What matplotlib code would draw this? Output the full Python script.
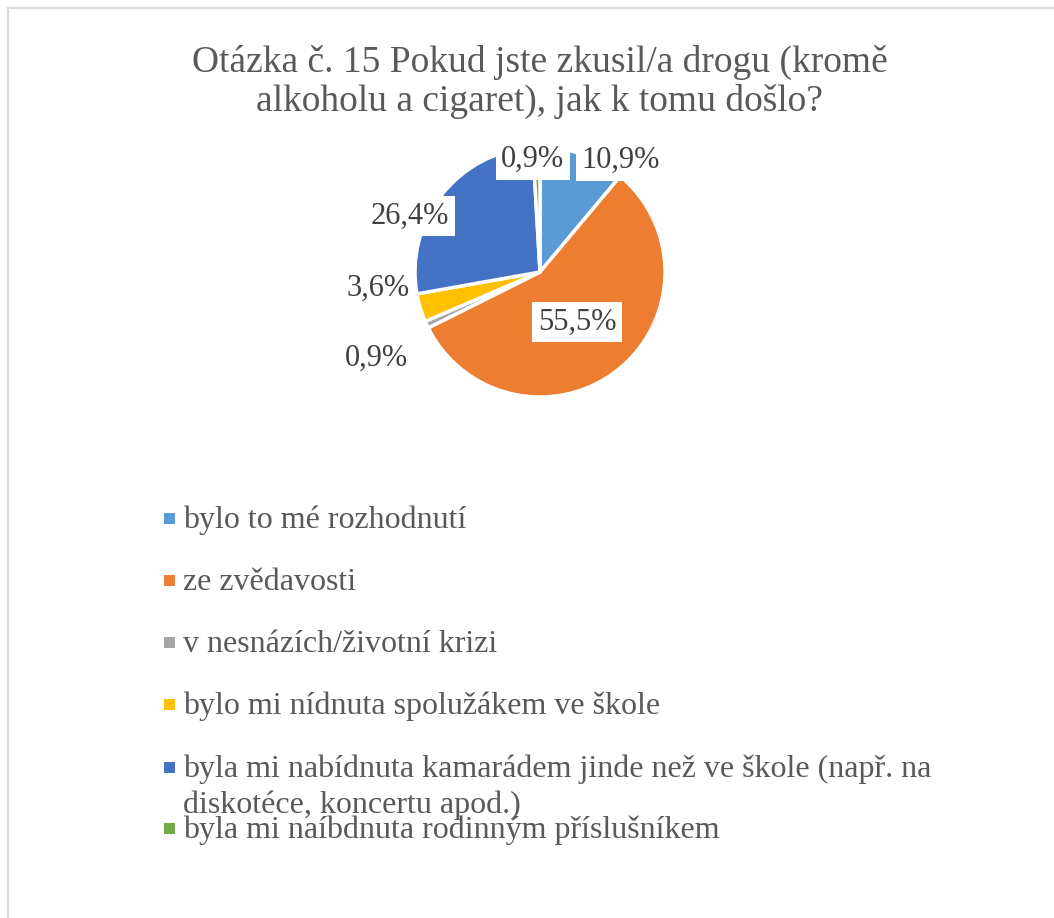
import matplotlib.pyplot as plt
from matplotlib.patches import Rectangle
import numpy as np

plt.rcParams['font.family'] = ['Liberation Serif', 'DejaVu Serif']

# data
categories = ['bylo to mé rozhodnutí',
              'ze zvědavosti',
              'v nesnázích/životní krizi',
              'bylo mi nídnuta spolužákem ve škole',
              'byla mi nabídnuta kamarádem jinde než ve škole (např. na\ndiskotéce, koncertu apod.)',
              'byla mi naíbdnuta rodinným příslušníkem']
shares = [10.9, 55.5, 0.9, 3.6, 26.4, 0.9]
pct_labels = ['10,9%', '55,5%', '0,9%', '3,6%', '26,4%', '0,9%']
colors = ['#5B9BD5', '#ED7D31', '#A5A5A5', '#FFC000', '#4472C4', '#70AD47']

# label placement (radius factor, angle shift from wedge middle)
lab_r = [1.1, 0.5, 1.48, 1.3, 1.13, 0.9]
lab_shift = [-16, -2, 3, -11, 15, 2]

W, H = 1054, 918
txt_col = '#595959'
fig = plt.figure(figsize=(W / 100, H / 100), dpi=100)

# outer chart border
fig.patches.append(Rectangle((8 / W, -0.1), 1.2, 1.1 - 8 / H, transform=fig.transFigure,
                             fill=False, edgecolor='#D9D9D9', linewidth=1.5))

fig.text(540 / W, 1 - 82 / H, 'Otázka č. 15 Pokud jste zkusil/a drogu (kromě\nalkoholu a cigaret), jak k tomu došlo?',
         ha='center', va='center', fontsize=27, color=txt_col, linespacing=1.15)

cx, cy, r = 540, 272, 125
ax = fig.add_axes([(cx - r) / W, 1 - (cy + r) / H, 2 * r / W, 2 * r / H])
wedges, _ = ax.pie(shares, colors=colors, startangle=90, counterclock=False,
                   wedgeprops=dict(edgecolor='white', linewidth=2.5))
ax.set_xlim(-1, 1)
ax.set_ylim(-1, 1)
ax.set_aspect('equal')
ax.axis('off')

for i, w in enumerate(wedges):
    mid = np.deg2rad((w.theta1 + w.theta2) / 2 + lab_shift[i])
    ax.text(lab_r[i] * np.cos(mid), lab_r[i] * np.sin(mid), pct_labels[i],
            ha='center', va='center', fontsize=22, color='#404040',
            bbox=dict(facecolor='white', edgecolor='none', pad=4))

# legend drawn by hand to keep the Excel-like row layout
rows = [520, 582, 644, 706, 769, 830]
for i, lab in enumerate(categories):
    y = rows[i]
    fig.patches.append(Rectangle((164 / W, 1 - (y + 4) / H), 11 / W, 11 / H,
                                 transform=fig.transFigure, facecolor=colors[i], edgecolor='none'))
    for k, line in enumerate(lab.split('\n')):
        fig.text(183 / W, 1 - (y + 8 + 36 * k) / H, line, ha='left', va='baseline',
                 fontsize=23, color=txt_col)

fig.savefig('out.png', dpi=100)
